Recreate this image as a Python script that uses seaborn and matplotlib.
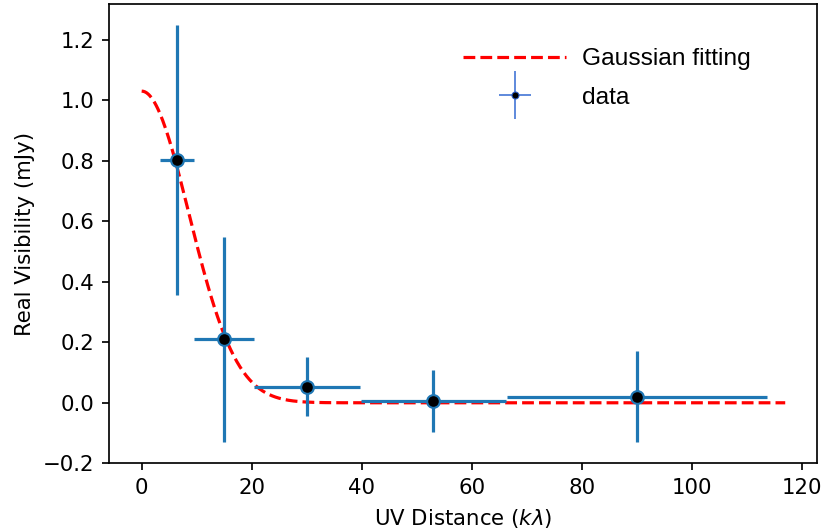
import numpy as np
import pandas as pd
import matplotlib
matplotlib.use('Agg')
import matplotlib.pyplot as plt
import seaborn as sns
from matplotlib.lines import Line2D
from matplotlib.legend_handler import HandlerErrorbar

# binned visibilities
uv_dist = [6.4, 14.9, 30.1, 53.0, 90.0]
uv_halfwidth = [3.05, 5.45, 9.6, 13.2, 23.6]
real_vis = [0.802, 0.210, 0.053, 0.006, 0.020]
vis_err = [0.447, 0.338, 0.097, 0.101, 0.150]

# gaussian fit parameters
amp = 1.03
sigma = 8.6
uv_model = np.linspace(0, 117, 400)
df_fit = pd.DataFrame({'uv': uv_model,
                       'vis': amp * np.exp(-uv_model**2 / (2 * sigma**2))})

sns.set_style('ticks', {'axes.edgecolor': 'black', 'xtick.color': 'black',
                        'ytick.color': 'black', 'text.color': 'black',
                        'axes.labelcolor': 'black'})
plt.rcParams['font.family'] = ['DejaVu Sans']

DPI = 153
fig = plt.figure(figsize=(822 / DPI, 531 / DPI), dpi=DPI)
ax = fig.add_axes([0.1332, 0.1275, 0.8612, 0.865])

sns.lineplot(data=df_fit, x='uv', y='vis', ax=ax, color='red', linestyle='--',
             linewidth=1.5, label='Gaussian fitting')

eb = ax.errorbar(uv_dist, real_vis, xerr=uv_halfwidth, yerr=vis_err, fmt='o',
                 color='tab:blue', ecolor='tab:blue', elinewidth=1.5,
                 markerfacecolor='black', markeredgecolor='tab:blue',
                 markeredgewidth=1.0, markersize=6, label='data', zorder=3)

ax.set_xlabel('UV Distance ($k\\lambda$)')
ax.set_ylabel('Real Visibility (mJy)')
ax.set_xticks([0, 20, 40, 60, 80, 100, 120])
ax.set_yticks([-0.2, 0.0, 0.2, 0.4, 0.6, 0.8, 1.0, 1.2])
ax.set_xlim(-5.85, 122.85)
ax.set_ylim(-0.2, 1.318)
for s in ax.spines.values():
    s.set_visible(True)
    s.set_linewidth(0.8)


def small_handle(leg_h, orig_h):
    leg_h.update_from(orig_h)
    if isinstance(leg_h, Line2D):
        leg_h.set_markersize(3.3)
        leg_h.set_markeredgecolor('#3060c8')
        leg_h.set_markeredgewidth(0.5)
    else:
        leg_h.set_color('#3b6fd4')
        leg_h.set_linewidth(0.75)


handles, labels = ax.get_legend_handles_labels()
ax.legend(handles, labels, loc='upper left', bbox_to_anchor=(0.469, 0.952),
          frameon=False, prop={'family': 'Liberation Sans', 'size': 11.5},
          handlelength=4.2, handletextpad=0.65, labelspacing=0.68,
          handler_map={type(eb): HandlerErrorbar(xerr_size=0.66, yerr_size=0.98,
                                                 update_func=small_handle)})

fig.savefig('out.png', dpi=DPI)
